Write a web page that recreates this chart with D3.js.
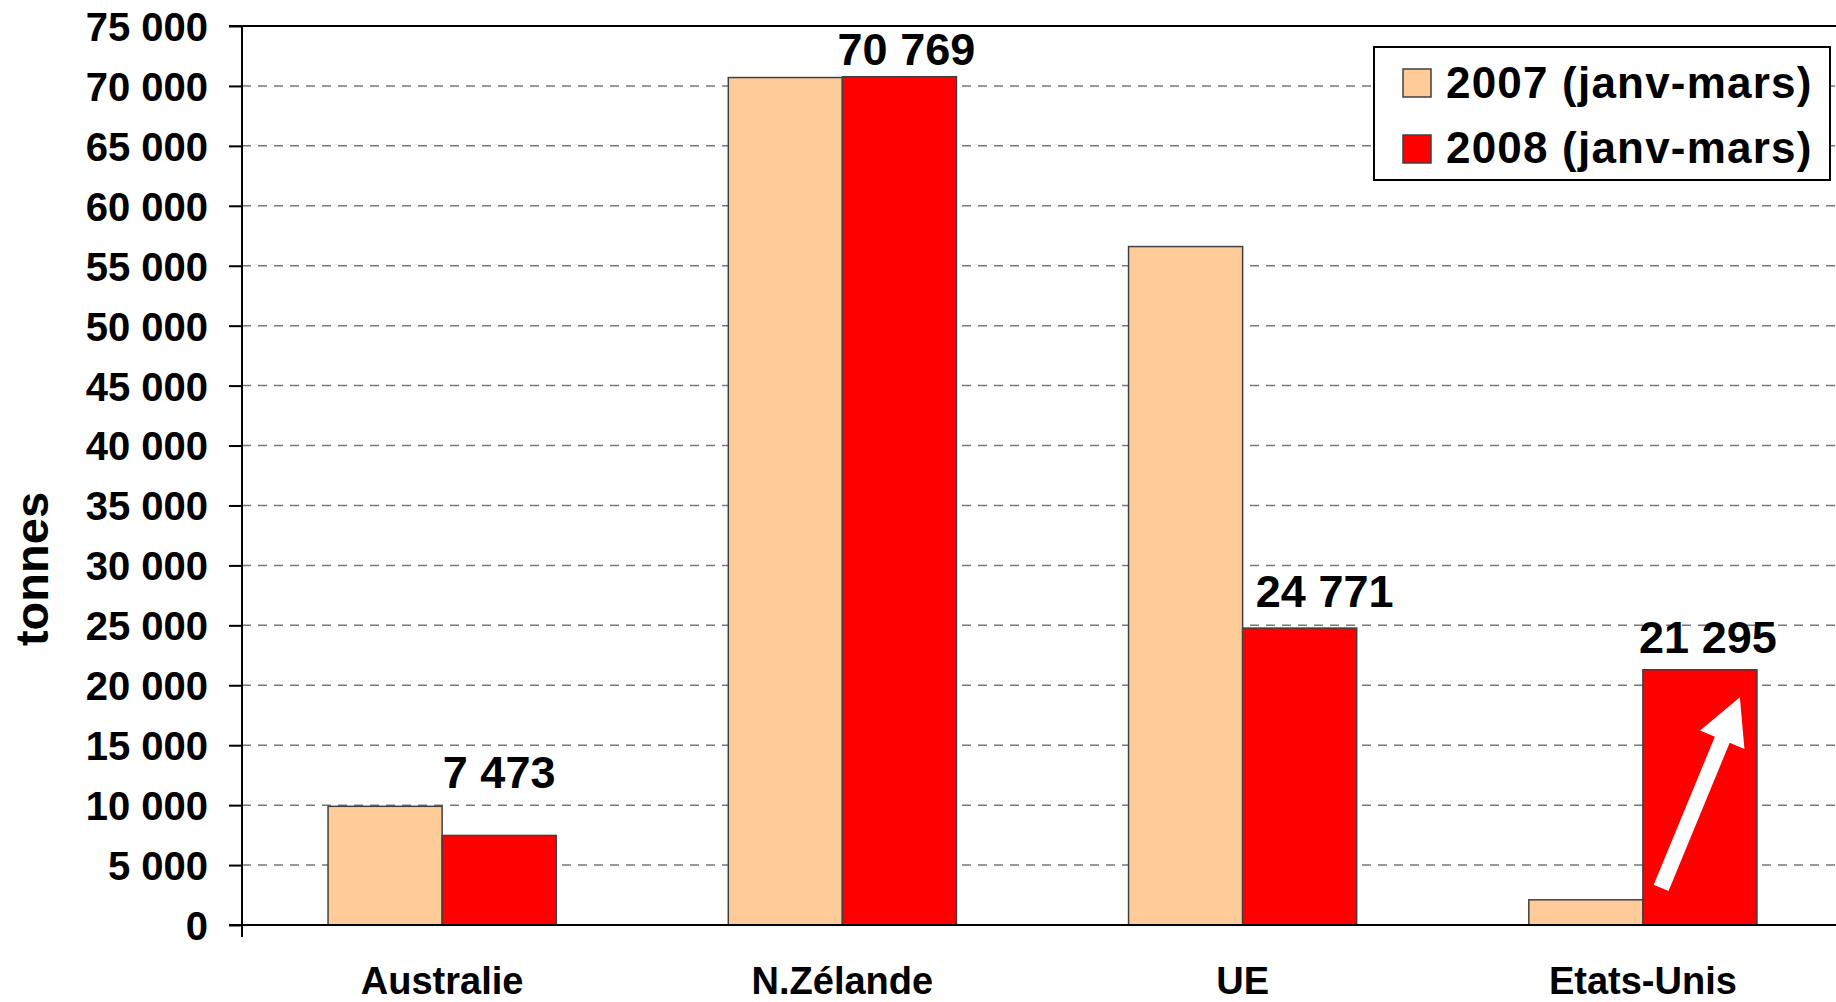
<!DOCTYPE html>
<html>
<head>
<meta charset="utf-8">
<script src="https://cdn.jsdelivr.net/npm/d3@7"></script>
<style>
  body { margin: 0; background: #fff; }
  text { font-family: "Liberation Sans", Arial, sans-serif; font-weight: bold; fill: #000; }
</style>
</head>
<body>
<div id="vis"></div>
<script>
// data (tonnes, jan-march)
const countries = ['Australie', 'N.Zélande', 'UE', 'Etats-Unis']
const years = ['2007 (janv-mars)', '2008 (janv-mars)']
const values2007 = [9900, 70700, 56600, 2100]
const values2008 = [7473, 70769, 24771, 21295]
const yTicks = [0, 5000, 10000, 15000, 20000, 25000, 30000, 35000, 40000, 45000, 50000, 55000, 60000, 65000, 70000, 75000]
const colors = ['#FFCC99', '#FF0000']

const W = 1836, H = 1002
const margin = { top: 26, left: 242, bottom: 77 }
const plotRight = 1843   // plot area runs a bit past the picture edge

// value labels were nudged by hand in the original
const labelDx = [0, 7, 25, 8]
const labelGap = [47, 12, 21, 17]

const fmt = v => d3.format(',')(v).replace(/,/g, ' ')

const svg = d3.select('#vis')
    .append('svg')
    .attr('width', W)
    .attr('height', H)

const xScale = d3.scaleBand()
    .domain(countries)
    .range([margin.left, plotRight])

const yScale = d3.scaleLinear()
    .domain([0, 75000])
    .range([H - margin.bottom, margin.top])

const barW = xScale.bandwidth() * 0.285

// gridlines (dashed), top one solid
svg.append('g')
    .selectAll('line')
    .data(yTicks.filter(d => d > 0 && d < 75000))
    .join('line')
    .attr('x1', margin.left)
    .attr('x2', plotRight)
    .attr('y1', d => yScale(d))
    .attr('y2', d => yScale(d))
    .style('stroke', '#777')
    .style('stroke-width', 1.5)
    .style('stroke-dasharray', '9,7')

svg.append('line')
    .attr('x1', margin.left - 13)
    .attr('x2', plotRight)
    .attr('y1', yScale(75000))
    .attr('y2', yScale(75000))
    .style('stroke', '#000')
    .style('stroke-width', 2)

// bars
const rows = countries.map((c, i) => ({ country: c, v: [values2007[i], values2008[i]], i: i }))
const groups = svg.append('g')
    .selectAll('g')
    .data(rows)
    .join('g')
    .attr('transform', d => `translate(${xScale(d.country) + xScale.bandwidth() / 2},0)`)

groups.selectAll('rect')
    .data(d => d.v)
    .join('rect')
    .attr('x', (d, i) => (i - 1) * barW)
    .attr('width', barW)
    .attr('y', d => yScale(d))
    .attr('height', d => yScale(0) - yScale(d))
    .style('fill', (d, i) => colors[i])
    .style('stroke', '#404040')
    .style('stroke-width', 1.5)

// value labels on 2008 bars
groups.append('text')
    .attr('x', d => barW / 2 + labelDx[d.i])
    .attr('y', d => yScale(d.v[1]) - labelGap[d.i])
    .attr('text-anchor', 'middle')
    .style('font-size', '45px')
    .text(d => fmt(d.v[1]))

// white arrow on the Etats-Unis bar
const ax = xScale('Etats-Unis') + xScale.bandwidth() / 2
const tail = [ax + barW * 0.16, yScale(3100)]
const tip = [ax + barW * 0.85, yScale(19000)]
const ang = Math.atan2(tip[1] - tail[1], tip[0] - tail[0])
const len = Math.hypot(tip[0] - tail[0], tip[1] - tail[1])
const headL = 46, headW = 24, shaftW = 8
svg.append('path')
    .attr('transform', `translate(${tail[0]},${tail[1]}) rotate(${ang * 180 / Math.PI})`)
    .attr('d', `M0,${-shaftW} L${len - headL},${-shaftW} L${len - headL},${-headW} L${len},0 L${len - headL},${headW} L${len - headL},${shaftW} L0,${shaftW} Z`)
    .style('fill', '#fff')

// y axis
const yAxis = d3.axisLeft(yScale)
    .tickValues(yTicks)
    .tickFormat(fmt)
    .tickSize(13)
    .tickSizeOuter(0)

const yG = svg.append('g')
    .attr('transform', `translate(${margin.left},0)`)
    .call(yAxis)
yG.select('.domain').remove()
yG.selectAll('.tick line').style('stroke', '#000').style('stroke-width', 2)
yG.selectAll('.tick text')
    .attr('x', -34)
    .attr('dy', '0.36em')
    .style('font-size', '40px')
    .style('font-family', '"Liberation Sans", Arial, sans-serif')

svg.append('line')
    .attr('x1', margin.left).attr('x2', margin.left)
    .attr('y1', yScale(75000)).attr('y2', yScale(0) + 12)
    .style('stroke', '#000').style('stroke-width', 2)

// x axis
svg.append('line')
    .attr('x1', margin.left - 13).attr('x2', plotRight)
    .attr('y1', yScale(0)).attr('y2', yScale(0))
    .style('stroke', '#000').style('stroke-width', 2)

svg.append('g')
    .selectAll('text')
    .data(countries)
    .join('text')
    .attr('x', d => xScale(d) + xScale.bandwidth() / 2)
    .attr('y', 994)
    .attr('text-anchor', 'middle')
    .style('font-size', '38px')
    .text(d => d)

// y label
svg.append('text')
    .attr('transform', `translate(48,569) rotate(-90)`)
    .attr('text-anchor', 'middle')
    .style('font-size', '47px')
    .text('tonnes')

// legend
const legend = svg.append('g').attr('transform', 'translate(1374,47)')
legend.append('rect')
    .attr('width', 456).attr('height', 133)
    .style('fill', '#fff').style('stroke', '#000').style('stroke-width', 2)

years.forEach((y, i) => {
    legend.append('rect')
        .attr('x', 29).attr('y', 22 + i * 66)
        .attr('width', 28).attr('height', 28)
        .style('fill', colors[i]).style('stroke', '#404040').style('stroke-width', 1.5)
    legend.append('text')
        .attr('x', 72).attr('y', 51 + i * 65)
        .style('font-size', '44px')
        .style('letter-spacing', '1.2px')
        .text(y)
})
</script>
</body>
</html>
